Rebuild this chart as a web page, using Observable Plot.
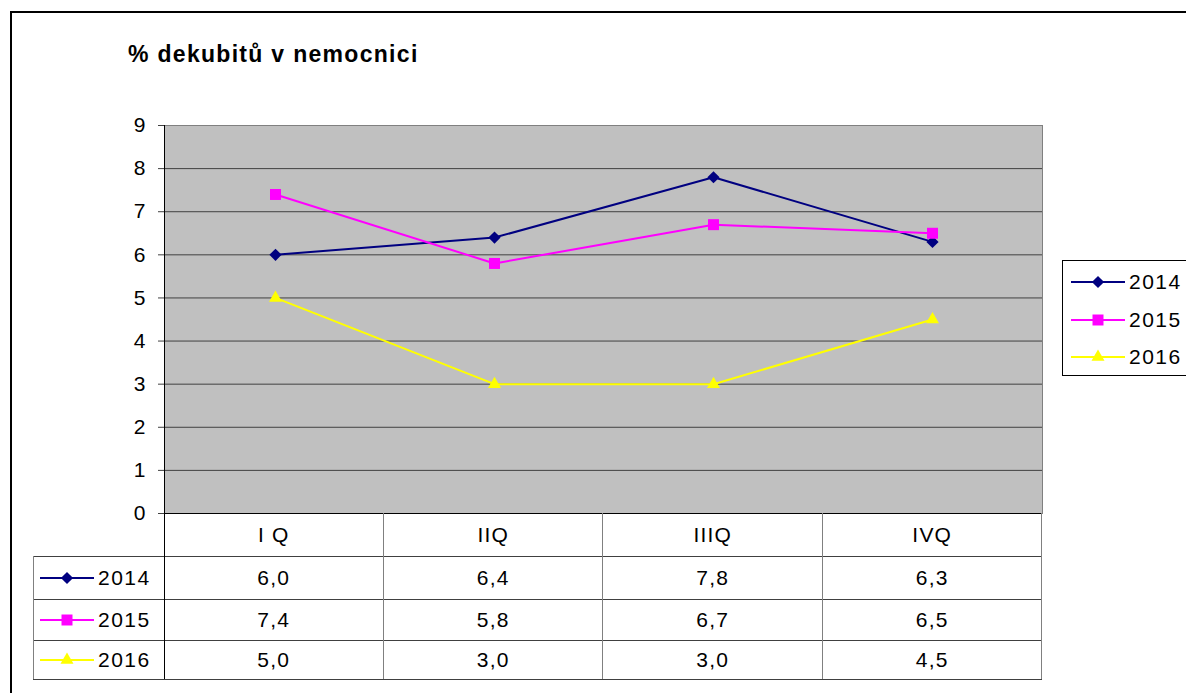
<!DOCTYPE html>
<html><head><meta charset="utf-8">
<script src="https://cdn.jsdelivr.net/npm/d3@7"></script>
<script src="https://cdn.jsdelivr.net/npm/@observablehq/plot@0.6"></script>
<style>
body{margin:0;background:#fff;font-family:Arial,"Liberation Sans",sans-serif;}
#wrap{position:relative;width:1186px;height:693px;overflow:hidden;background:#fff;}
#wrap > *{position:absolute;}
.frame{left:10px;top:11px;width:1200px;height:700px;border-top:2px solid #000;border-left:2px solid #000;}
.title{left:128px;top:41px;font-weight:bold;font-size:23px;letter-spacing:1.3px;white-space:nowrap;}
.cell{display:flex;align-items:center;justify-content:center;font-size:21px;letter-spacing:1.2px;box-sizing:border-box;}
.hl{height:0;border-top:1px solid #404040;}
.vl{width:0;border-left:1px solid #808080;}
</style></head><body><div id="wrap"></div>
<script>
const title = "% dekubitů v nemocnici";
const quarters = ["I Q", "IIQ", "IIIQ", "IVQ"];
const years = ["2014", "2015", "2016"];
const v2014 = [6.0, 6.4, 7.8, 6.3];
const v2015 = [7.4, 5.8, 6.7, 6.5];
const v2016 = [5.0, 3.0, 3.0, 4.5];
const yTicks = [0, 1, 2, 3, 4, 5, 6, 7, 8, 9];
const colors = ["#000080", "#FF00FF", "#FFFF00"];
const symbols = ["diamond2", "square", "triangle2"];
const markerR = [5.5, 6.2, 6.2];
const series = [v2014, v2015, v2016];
const fmt = v => v.toFixed(1).replace(".", ",");

const data = years.flatMap((yr, i) => quarters.map((q, j) => ({year: yr, q, v: series[i][j]})));

const W = 1186, H = 693;
const mL = 164, mR = 144, mT = 125, mB = 180;
const wrap = document.getElementById("wrap");

const chart = Plot.plot({
  width: W, height: H,
  marginLeft: mL, marginRight: mR, marginTop: mT, marginBottom: mB,
  x: {type: "point", domain: quarters, padding: 0.5, axis: null},
  y: {domain: [0, 9], axis: null, label: null},
  color: {domain: years, range: colors},
  symbol: {domain: years, range: symbols},
  style: {fontFamily: "Arial, 'Liberation Sans', sans-serif", fontSize: "21px", color: "#000", background: "transparent"},
  marks: [
    Plot.frame({fill: "#C0C0C0", stroke: "#808080"}),
    Plot.gridY(yTicks.filter(t => t > 0 && t < 9), {stroke: "#404040", strokeOpacity: 1, strokeWidth: 1}),
    Plot.axisY(yTicks, {tickSize: 6, tickPadding: 13, fontSize: 21, label: null, tickFormat: d => String(d), stroke: "#404040", fill: "#000"}),
    Plot.line(data, {x: "q", y: "v", z: "year", stroke: "year", strokeWidth: 2}),
    ...years.map((yr, i) => Plot.dot(data.filter(d => d.year === yr), {x: "q", y: "v", fill: "year", symbol: "year", r: markerR[i], stroke: null}))
  ]
});
chart.style.left = "0px"; chart.style.top = "0px";
wrap.appendChild(chart);

// frame + title
const fr = document.createElement("div"); fr.className = "frame"; wrap.appendChild(fr);
const ti = document.createElement("div"); ti.className = "title"; ti.textContent = title; wrap.appendChild(ti);

// legend key svg
function keySvg(i) {
  const s = d3.create("svg").attr("width", 54).attr("height", 20);
  s.append("line").attr("x1", 0).attr("x2", 54).attr("y1", 10).attr("y2", 10)
    .attr("stroke", colors[i]).attr("stroke-width", 2);
  const sym = [d3.symbolDiamond2, d3.symbolSquare, d3.symbolTriangle2][i];
  s.append("path").attr("d", d3.symbol(sym, Math.PI * markerR[i] * markerR[i])()).attr("transform", "translate(27,10)").attr("fill", colors[i]);
  return s.node();
}

// data table
const rowEdges = [513, 556, 599, 640, 679];
const colLeft = 33, x0 = 164, bw = (W - mR - mL) / quarters.length;
function add(el, css) { Object.assign(el.style, css); wrap.appendChild(el); return el; }
function cell(text, left, top, w, h) {
  const d = document.createElement("div"); d.className = "cell"; d.textContent = text;
  return add(d, {left: left + "px", top: top + "px", width: w + "px", height: h + "px"});
}
quarters.forEach((q, j) => cell(q, x0 + j * bw, rowEdges[0], bw, rowEdges[1] - rowEdges[0]));
years.forEach((yr, i) => {
  const top = rowEdges[i + 1], h = rowEdges[i + 2] - top;
  series[i].forEach((v, j) => cell(fmt(v), x0 + j * bw, top, bw, h));
  const k = document.createElement("div");
  add(k, {left: "40px", top: top + "px", height: h + "px", display: "flex", alignItems: "center", fontSize: "21px", letterSpacing: "1.5px"});
  k.appendChild(keySvg(i));
  const sp = document.createElement("span"); sp.textContent = yr; sp.style.marginLeft = "4px"; k.appendChild(sp);
});
// table lines
for (let r = 1; r < rowEdges.length; r++) {
  const d = document.createElement("div"); d.className = "hl";
  add(d, {left: colLeft + "px", top: rowEdges[r] + "px", width: (x0 + 4 * bw - colLeft) + "px"});
}
{ const d = document.createElement("div"); d.className = "hl";
  add(d, {left: x0 + "px", top: rowEdges[0] + "px", width: (4 * bw) + "px", borderTopColor: "#000"}); }
for (let j = 1; j <= 4; j++) {
  const d = document.createElement("div"); d.className = "vl";
  add(d, {left: (x0 + j * bw - 1) + "px", top: rowEdges[0] + "px", height: (rowEdges[4] - rowEdges[0]) + "px"});
}
{ const d = document.createElement("div"); d.className = "vl";
  add(d, {left: colLeft + "px", top: rowEdges[1] + "px", height: (rowEdges[4] - rowEdges[1]) + "px"}); }
{ const d = document.createElement("div"); d.className = "vl";
  add(d, {left: x0 + "px", top: mT + "px", height: (rowEdges[4] - mT) + "px", borderLeftColor: "#000"}); }

// right legend
const lg = document.createElement("div");
add(lg, {left: "1062px", top: "260px", width: "140px", height: "116px", border: "1px solid #000", boxSizing: "border-box"});
years.forEach((yr, i) => {
  const row = document.createElement("div");
  add(row, {left: "1071px", top: (272 + i * 37.5) + "px", height: "20px", display: "flex", alignItems: "center", fontSize: "21px", letterSpacing: "1.5px"});
  row.appendChild(keySvg(i));
  const sp = document.createElement("span"); sp.textContent = yr; sp.style.marginLeft = "4px"; row.appendChild(sp);
});
</script></body></html>
